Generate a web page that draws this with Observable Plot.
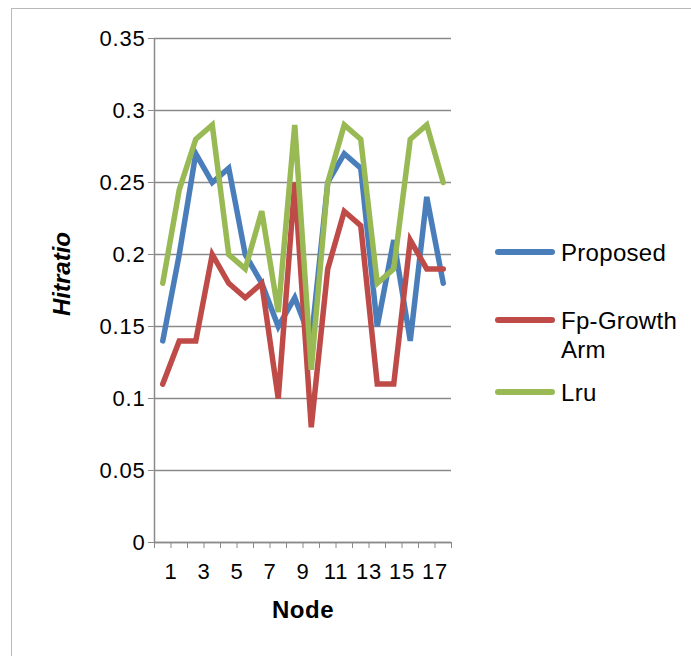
<!DOCTYPE html>
<html>
<head>
<meta charset="utf-8">
<script src="https://cdn.jsdelivr.net/npm/d3@7"></script>
<script src="https://cdn.jsdelivr.net/npm/@observablehq/plot@0.6"></script>
<style>
  body { margin: 0; background: #fff; font-family: "Liberation Sans", Arial, sans-serif; }
  #wrap { position: relative; width: 691px; height: 656px; overflow: hidden; }
  #frame { position: absolute; left: 11px; top: 8px; width: 720px; height: 700px; border: 1.5px solid #b8b8b8; box-sizing: border-box; pointer-events: none; }
  #chart { position: absolute; left: 0; top: 0; }
  #chart svg text { letter-spacing: 0.8px; }
  .leg { position: absolute; left: 495px; display: flex; align-items: flex-start; font-size: 24px; letter-spacing: 0.3px; color: #000; }
  .sw { width: 60px; height: 6px; border-radius: 3px; margin-right: 6px; flex: none; }
  .ytitle { position: absolute; left: 62px; top: 274px; transform: translate(-50%, -50%) rotate(-90deg); font-size: 24px; font-weight: bold; font-style: italic; white-space: nowrap; }
  .xtitle { position: absolute; left: 303px; top: 610px; transform: translate(-50%, -50%); font-size: 24px; font-weight: bold; letter-spacing: 0.5px; white-space: nowrap; }
</style>
</head>
<body>
<div id="wrap">
  <div id="chart"></div>
  <div id="frame"></div>
</div>
<script>
// ---- data ----
const nodes = [1, 2, 3, 4, 5, 6, 7, 8, 9, 10, 11, 12, 13, 14, 15, 16, 17, 18];
const proposed = [0.14, 0.20, 0.27, 0.25, 0.26, 0.20, 0.18, 0.15, 0.17, 0.14, 0.25, 0.27, 0.26, 0.15, 0.21, 0.14, 0.24, 0.18];
const fpGrowthArm = [0.11, 0.14, 0.14, 0.20, 0.18, 0.17, 0.18, 0.10, 0.25, 0.08, 0.19, 0.23, 0.22, 0.11, 0.11, 0.21, 0.19, 0.19];
const lru = [0.18, 0.245, 0.28, 0.29, 0.20, 0.19, 0.23, 0.16, 0.29, 0.12, 0.25, 0.29, 0.28, 0.18, 0.19, 0.28, 0.29, 0.25];
const seriesNames = ["Proposed", "Fp-Growth\nArm", "Lru"];
const seriesColors = ["#4A7EBB", "#BE4B48", "#98B954"];
const yTicks = [0, 0.05, 0.1, 0.15, 0.2, 0.25, 0.3, 0.35];
const xTickLabels = [1, 3, 5, 7, 9, 11, 13, 15, 17];
const yTitle = "Hitratio";
const xTitle = "Node";

// ---- derived ----
const seriesValues = [proposed, fpGrowthArm, lru];
const rows = [];
seriesValues.forEach((vals, s) => vals.forEach((v, i) => rows.push({ series: seriesNames[s], node: nodes[i], value: v })));
const boundaries = nodes.map(d => d - 0.5).concat([nodes[nodes.length - 1] + 0.5]);
const axisColor = "#8a8a8a";

const chart = Plot.plot({
  width: 691,
  height: 656,
  marginLeft: 154,
  marginRight: 240,
  marginTop: 38,
  marginBottom: 114,
  style: { fontFamily: "'Liberation Sans', Arial, sans-serif", fontSize: "22px", color: "#000", background: "transparent", overflow: "visible" },
  x: { type: "linear", domain: [nodes[0] - 0.5, nodes[nodes.length - 1] + 0.5] },
  y: { domain: [yTicks[0], yTicks[yTicks.length - 1]] },
  color: { domain: seriesNames, range: seriesColors },
  marks: [
    Plot.gridY(yTicks, { stroke: axisColor, strokeOpacity: 1, strokeWidth: 1.5 }),
    Plot.axisY(yTicks, { tickSize: 6, tickPadding: 3, tickFormat: d => String(d), stroke: axisColor, label: null, fontSize: 22 }),
    Plot.ruleX([boundaries[0]], { stroke: axisColor, strokeWidth: 1.5 }),
    Plot.ruleY([0], { stroke: axisColor, strokeWidth: 1.5 }),
    Plot.axisX(boundaries, { tickSize: 6, tickFormat: () => "", stroke: axisColor, label: null }),
    Plot.axisX(xTickLabels.map(d => d + 0.5), { tickSize: 0, tickPadding: 21, tickFormat: d => String(d - 0.5), label: null, fontSize: 22 }),
    Plot.line(rows, { x: "node", y: "value", z: "series", stroke: "series", strokeWidth: 5.5, strokeLinejoin: "miter", strokeMiterlimit: 4, strokeLinecap: "round" })
  ]
});
document.getElementById("chart").appendChild(chart);

// ---- legend & titles (HTML) ----
const wrap = document.getElementById("wrap");
const legendCenters = [252, 320, 392];
seriesNames.forEach((name, i) => {
  const item = document.createElement("div");
  item.className = "leg";
  const lines = name.split("\n");
  item.style.top = (legendCenters[i] - 14) + "px";
  const sw = document.createElement("div");
  sw.className = "sw";
  sw.style.background = seriesColors[i];
  sw.style.marginTop = "11px";
  const txt = document.createElement("div");
  txt.style.lineHeight = "29px";
  txt.innerHTML = lines.join("<br>");
  item.appendChild(sw);
  item.appendChild(txt);
  wrap.appendChild(item);
});
const yt = document.createElement("div");
yt.className = "ytitle";
yt.textContent = yTitle;
wrap.appendChild(yt);
const xt = document.createElement("div");
xt.className = "xtitle";
xt.textContent = xTitle;
wrap.appendChild(xt);
</script>
</body>
</html>
